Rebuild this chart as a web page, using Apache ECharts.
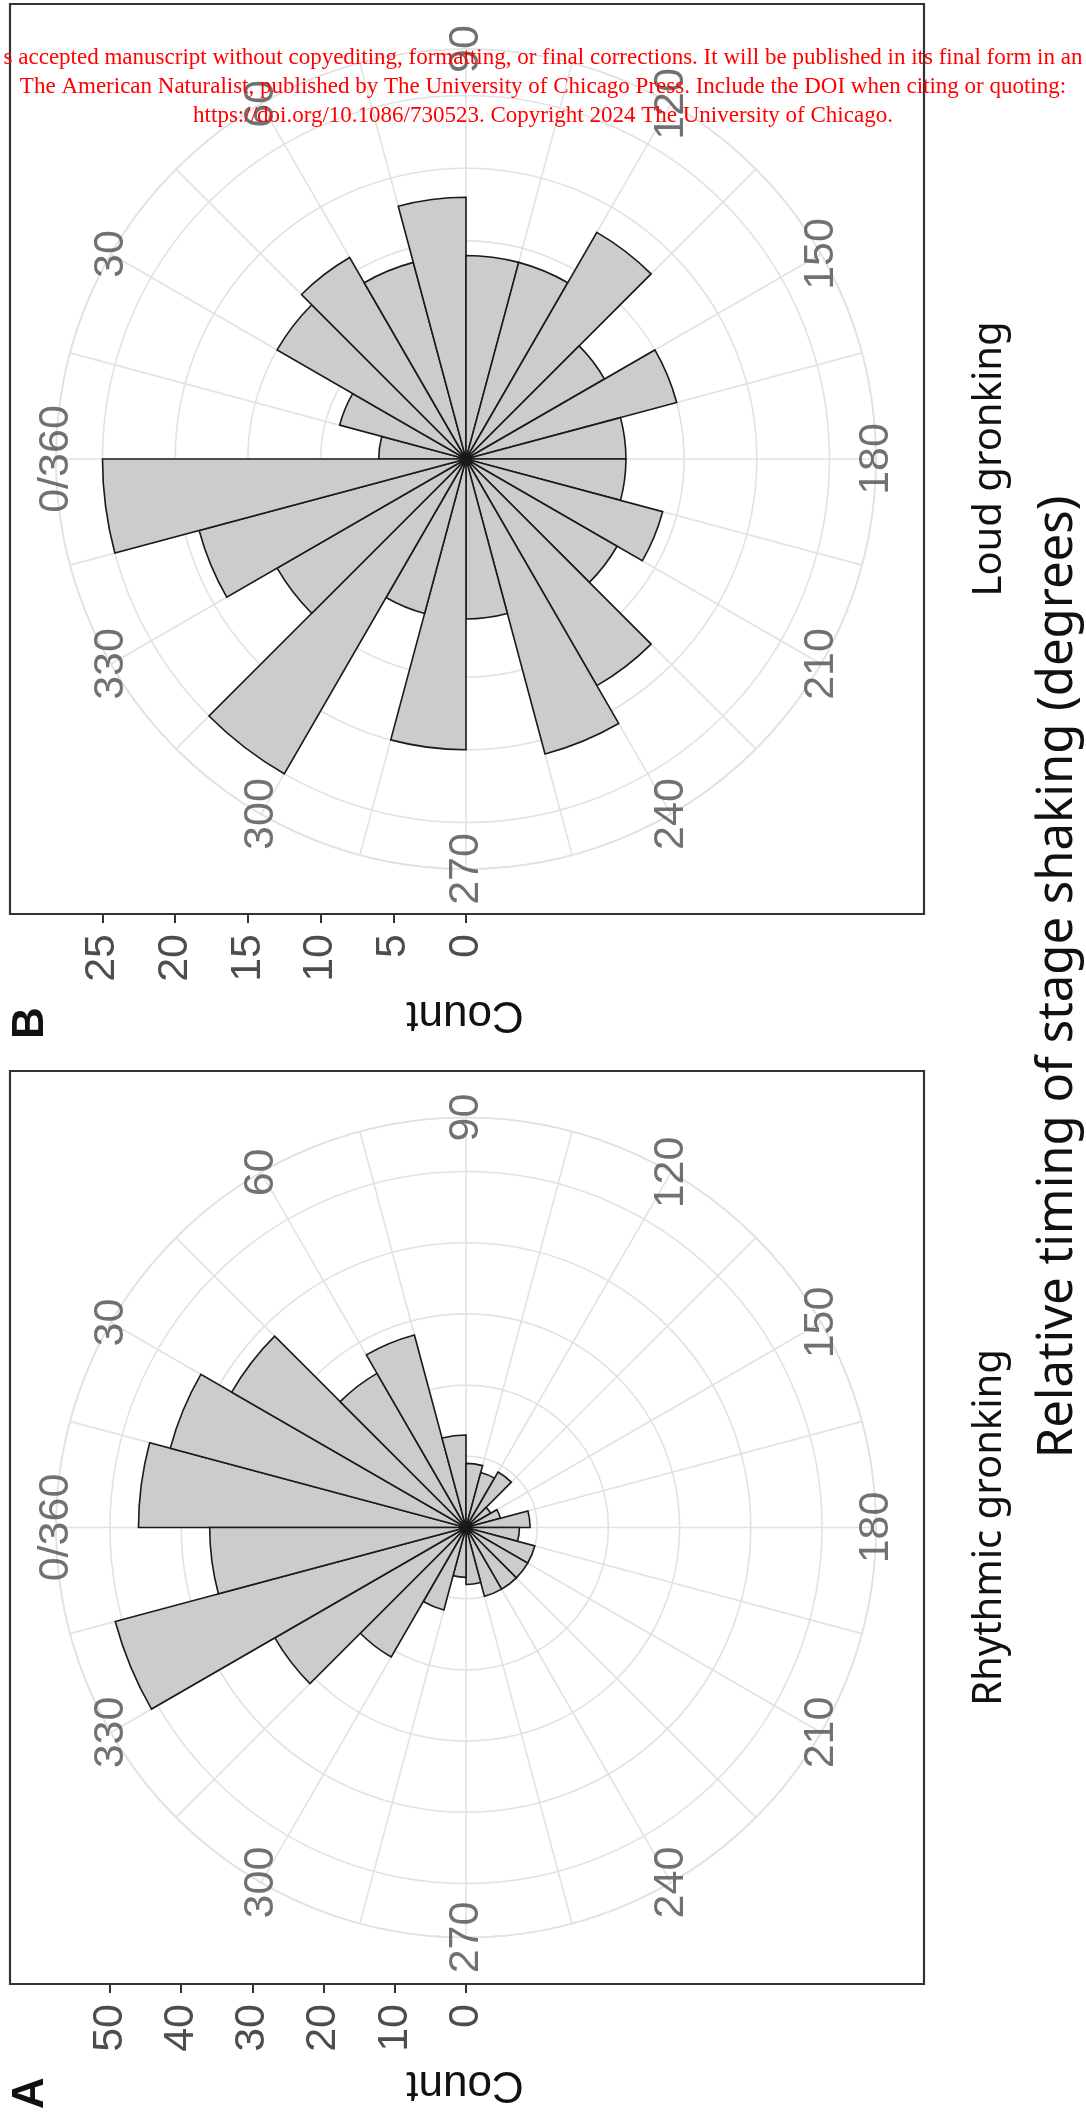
<!DOCTYPE html>
<html><head><meta charset="utf-8">
<script src="https://cdn.jsdelivr.net/npm/echarts@6/dist/echarts.min.js"></script>
<style>html,body{margin:0;padding:0;background:#fff}#c{width:1086px;height:2112px}</style>
</head><body><div id="c"></div>
<script>
// ---- data ----
const binLabels = ['0','15','30','45','60','75','90','105','120','135','150','165','180','195','210','225','240','255','270','285','300','315','330','345'];
const countsA = [46,43,38,25,28,13,9,8,9,4,5,9,7.5,10,10,10,10,8,7,12,21,31,51,36];   // Rhythmic gronking
const countsB = [6,9,15,16,14,18,14,14,18,11,15,11,11,14,12,18,21,11,20,11,25,15,19,25]; // Loud gronking
const angleTicks = [0,30,60,90,120,150,180,210,240,270,300,330];
const angleTickLabels = ['0/360','30','60','90','120','150','180','210','240','270','300','330'];
const countTicksA = [0,10,20,30,40,50];
const countTicksB = [0,5,10,15,20,25];
const titleA = 'Rhythmic gronking';
const titleB = 'Loud gronking';
const axisTitle = 'Relative timing of stage shaking (degrees)';
const countTitle = 'Count';
const watermark = [
  's accepted manuscript without copyediting, formatting, or final corrections. It will be published in its final form in an',
  'The American Naturalist, published by The University of Chicago Press. Include the DOI when citing or quoting:',
  'https://doi.org/10.1086/730523. Copyright 2024 The University of Chicago.'
];

// ---- layout ----
const OUTER_R = 410;
const GRID = '#e2e2e2';
const SANS = '"Liberation Sans", Arial, sans-serif';
const panels = [
  {tag:'B', cx:466, cy:459, box:[10,4,914,910], ppu:14.54, ticks:countTicksB, counts:countsB, title:titleB},
  {tag:'A', cx:466, cy:1527.5, box:[10,1071,914,913], ppu:7.12, ticks:countTicksA, counts:countsA, title:titleA}
];

const option = {backgroundColor:'#fff', animation:false, polar:[], angleAxis:[], radiusAxis:[], grid:[], xAxis:[], yAxis:[], series:[], graphic:[]};

panels.forEach((p,i)=>{
  const rMax = OUTER_R / p.ppu;
  const axMax = p.ticks[p.ticks.length-1];
  const interval = p.ticks[1]-p.ticks[0];
  const bottom = p.box[1]+p.box[3];
  option.polar.push({center:[p.cx,p.cy], radius:OUTER_R});
  option.polar.push({center:[p.cx,p.cy], radius:OUTER_R});
  option.angleAxis.push({polarIndex:2*i, type:'category', data:binLabels, startAngle:180, clockwise:true, boundaryGap:true,
    axisLine:{show:false}, axisTick:{show:false}, axisLabel:{show:false}, splitLine:{show:false}});
  option.angleAxis.push({polarIndex:2*i+1, type:'value', min:0, max:360, interval:15, startAngle:180, clockwise:true,
    axisLine:{show:true, lineStyle:{color:GRID, width:1.6}}, axisTick:{show:false}, axisLabel:{show:false},
    splitLine:{show:true, lineStyle:{color:GRID, width:1.6}}});
  option.radiusAxis.push({polarIndex:2*i, type:'value', min:0, max:rMax,
    axisLine:{show:false}, axisTick:{show:false}, axisLabel:{show:false}, splitLine:{show:false}});
  option.radiusAxis.push({polarIndex:2*i+1, type:'value', min:0, max:rMax, interval:interval,
    axisLine:{show:false}, axisTick:{show:false}, axisLabel:{show:false},
    splitLine:{show:true, lineStyle:{color:GRID, width:1.6}}});
  option.series.push({type:'bar', coordinateSystem:'polar', polarIndex:2*i, data:p.counts, barCategoryGap:'0%', barGap:'0%', silent:true,
    itemStyle:{color:'#cccccc', borderColor:'#1a1a1a', borderWidth:1.6}});
  option.series.push({type:'scatter', coordinateSystem:'polar', polarIndex:2*i+1, symbol:'circle', symbolSize:2, silent:true, z:5, clip:false,
    itemStyle:{color:'rgba(0,0,0,0)'},
    data: angleTicks.map((a,k)=>({value:[rMax, a], name:angleTickLabels[k]})),
    label:{show:true, position:'inside', formatter:'{b}', rotate:90, fontSize:43, color:'#4d4d4d', fontFamily:SANS}});
  // count axis (radial scale shown outside the panel box)
  option.grid.push({left:p.cx-axMax*p.ppu, width:axMax*p.ppu, top:bottom-20, height:20, show:false});
  option.xAxis.push({gridIndex:i, type:'value', inverse:true, min:0, max:axMax, interval:interval, position:'bottom',
    axisLine:{show:false}, axisTick:{show:true, length:9, lineStyle:{color:'#333', width:2}},
    axisLabel:{rotate:90, fontSize:43, color:'#4d4d4d', margin:20, fontFamily:SANS}, splitLine:{show:false}});
  option.yAxis.push({gridIndex:i, type:'value', show:false});
  option.graphic.push({type:'rect', z:50, shape:{x:p.box[0], y:p.box[1], width:p.box[2], height:p.box[3]},
    style:{fill:'none', stroke:'#333', lineWidth:2.2}});
  option.graphic.push({type:'text', z:50, x:465, y:bottom+100, rotation:Math.PI,
    style:{text:countTitle, fontSize:44, fontFamily:SANS, fill:'#111', align:'center', verticalAlign:'middle'}});
  option.graphic.push({type:'text', z:50, x:31, y:bottom+109, rotation:Math.PI/2,
    style:{text:p.tag, fontSize:44, fontWeight:'bold', fontFamily:SANS, fill:'#111', align:'center', verticalAlign:'middle'}});
  option.graphic.push({type:'text', z:50, x:990, y:p.cy, rotation:Math.PI/2,
    style:{text:p.title, fontSize:40, fontFamily:'"Noto Sans", sans-serif', fill:'#111', align:'center', verticalAlign:'middle'}});
});
option.graphic.push({type:'text', z:50, x:1058, y:977, rotation:Math.PI/2,
  style:{text:axisTitle, fontSize:49, fontFamily:'"Noto Sans", sans-serif', fill:'#111', align:'center', verticalAlign:'middle'}});
watermark.forEach((t,k)=>{
  option.graphic.push({type:'text', z:100, x:543, y:58+29*k,
    style:{text:t, fontSize:23, fontFamily:'"Liberation Serif", serif', fill:'#ff0000', align:'center', verticalAlign:'middle'}});
});

const chart = echarts.init(document.getElementById('c'), null, {renderer:'canvas'});
chart.setOption(option);
</script></body></html>
